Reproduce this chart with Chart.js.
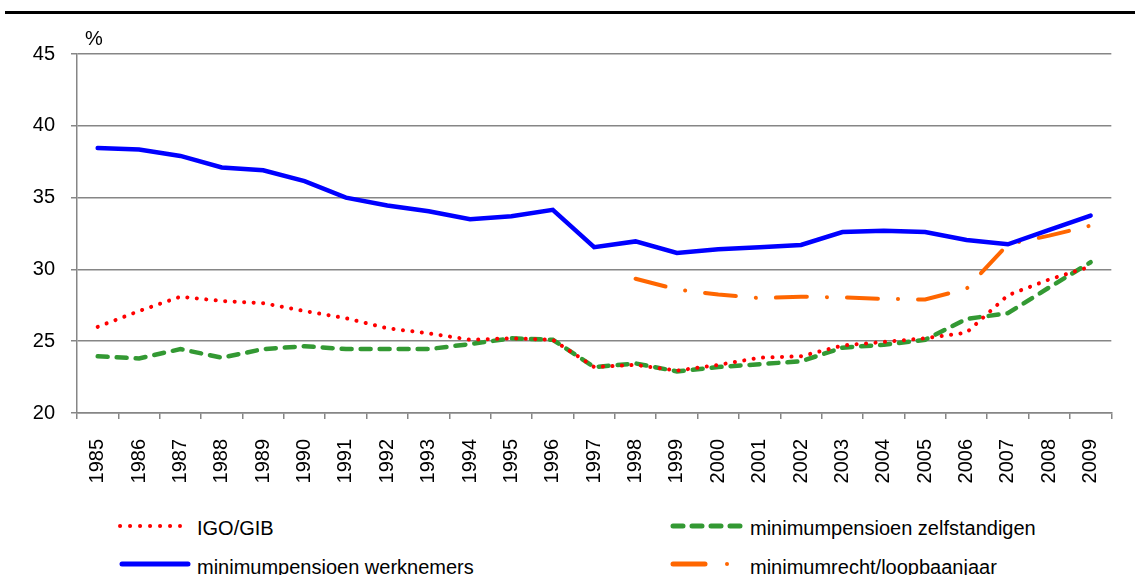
<!DOCTYPE html>
<html>
<head>
<meta charset="utf-8">
<script src="https://cdn.jsdelivr.net/npm/chart.js@4.4.1/dist/chart.umd.min.js"></script>
<style>
    html, body { margin: 0; padding: 0; background: #fff; }
    body { width: 1135px; height: 575px; position: relative; overflow: hidden;
           font-family: "Liberation Sans", Arial, sans-serif; color: #000; }
    #topRule { position: absolute; left: 5px; right: 0; top: 11px; height: 3px; background: #000; }
    #wrap { position: absolute; left: 0; top: 0; width: 1135px; height: 500px; }
    #unit { position: absolute; left: 85px; top: 27px; font-size: 20px; }
    .leg { position: absolute; font-size: 20px; line-height: 24px; white-space: nowrap; }
    .leg svg { position: absolute; top: 0; }
</style>
</head>
<body>
<div id="topRule"></div>
<div id="wrap"><canvas id="chart"></canvas></div>
<div id="unit">%</div>

<div class="leg" style="left:0; top:516px; width:1135px; height:24px;">
    <svg width="1135" height="24" style="left:0">
        <line x1="120" y1="10" x2="180" y2="10" stroke="#ff0000" stroke-width="4" stroke-linecap="round" stroke-dasharray="0.1 9.9"/>
        <line x1="673" y1="10" x2="740" y2="10" stroke="#339933" stroke-width="5" stroke-linecap="round" stroke-dasharray="10 9"/>
    </svg>
    <span style="position:absolute; left:197px; top:0;">IGO/GIB</span>
    <span style="position:absolute; left:750px; top:0;">minimumpensioen zelfstandigen</span>
</div>
<div class="leg" style="left:0; top:555px; width:1135px; height:24px;">
    <svg width="1135" height="24" style="left:0">
        <line x1="122" y1="9" x2="188" y2="9" stroke="#0000ff" stroke-width="5" stroke-linecap="round"/>
        <line x1="673" y1="9" x2="705" y2="9" stroke="#ff6600" stroke-width="5" stroke-linecap="round"/>
        <circle cx="727" cy="9" r="2" fill="#ff6600"/>
    </svg>
    <span style="position:absolute; left:197px; top:0;">minimumpensioen werknemers</span>
    <span style="position:absolute; left:750px; top:0;">minimumrecht/loopbaanjaar</span>
</div>

<script>
// Years on the x axis
const years = ['1985', '1986', '1987', '1988', '1989', '1990', '1991', '1992', '1993',
    '1994', '1995', '1996', '1997', '1998', '1999', '2000', '2001', '2002', '2003',
    '2004', '2005', '2006', '2007', '2008', '2009'];

// Series values (%)
const igoGib = [26.0, 27.1, 28.1, 27.8, 27.65, 27.1, 26.6, 25.9, 25.55, 25.1, 25.2, 25.1,
    23.2, 23.35, 22.95, 23.35, 23.85, 23.95, 24.7, 24.95, 25.2, 25.6, 28.2, 29.3, 30.2];
const werknemers = [38.45, 38.35, 37.9, 37.1, 36.9, 36.15, 35.0, 34.45, 34.05, 33.5, 33.7,
    34.15, 31.55, 31.95, 31.15, 31.4, 31.55, 31.7, 32.6, 32.7, 32.6, 32.05, 31.75, 32.75, 33.75];
const zelfstandigen = [23.95, 23.8, 24.45, 23.85, 24.45, 24.65, 24.45, 24.45, 24.45, 24.8,
    25.2, 25.1, 23.2, 23.45, 22.9, 23.2, 23.4, 23.6, 24.55, 24.75, 25.1, 26.55, 26.95, 28.75, 30.5];
const loopbaanjaar = [null, null, null, null, null, null, null, null, null, null, null, null,
    null, 29.35, 28.6, 28.25, 28.0, 28.1, 28.05, 27.95, 27.9, 28.65, 31.75, 32.35, 33.05];

// Y axis ticks
const yMin = 20;
const yMax = 45;
const yStep = 5;

const COLORS = {
    red: '#ff0000',
    blue: '#0000ff',
    green: '#339933',
    orange: '#ff6600',
    grid: '#868686'
};

const FONT = { family: '"Liberation Sans", Arial, sans-serif', size: 20 };

const ctx = document.getElementById('chart');

new Chart(ctx, {
    type: 'line',
    data: {
        labels: years,
        datasets: [
            {
                label: 'IGO/GIB',
                data: igoGib,
                borderColor: COLORS.red,
                borderWidth: 4,
                borderDash: [0.1, 9.4],
                borderCapStyle: 'round'
            },
            {
                label: 'minimumpensioen werknemers',
                data: werknemers,
                borderColor: COLORS.blue,
                borderWidth: 4.5,
                borderCapStyle: 'round'
            },
            {
                label: 'minimumpensioen zelfstandigen',
                data: zelfstandigen,
                borderColor: COLORS.green,
                borderWidth: 4.5,
                borderDash: [10, 9],
                borderCapStyle: 'round'
            },
            {
                label: 'minimumrecht/loopbaanjaar',
                data: loopbaanjaar,
                borderColor: COLORS.orange,
                borderWidth: 4,
                borderDash: [31, 20, 0.1, 20],
                borderCapStyle: 'round'
            }
        ]
    },
    options: {
        responsive: true,
        maintainAspectRatio: false,
        animation: false,
        layout: {
            padding: { top: 54, right: 18, left: 0, bottom: 0 }
        },
        elements: {
            point: { radius: 0, hoverRadius: 0 },
            line: { tension: 0, fill: false }
        },
        plugins: {
            legend: { display: false },
            tooltip: { enabled: false }
        },
        scales: {
            x: {
                type: 'category',
                offset: true,
                grid: {
                    offset: true,
                    drawOnChartArea: false,
                    drawTicks: true,
                    tickLength: 6,
                    color: COLORS.grid,
                    lineWidth: 1.5
                },
                border: { color: COLORS.grid, width: 1.5 },
                ticks: {
                    color: '#000',
                    font: FONT,
                    minRotation: 90,
                    maxRotation: 90,
                    autoSkip: false,
                    padding: 20
                },
                afterFit: (scale) => { scale.height = 87; }
            },
            y: {
                min: yMin,
                max: yMax,
                grid: {
                    color: COLORS.grid,
                    lineWidth: 1.5,
                    tickLength: 6
                },
                border: { color: COLORS.grid, width: 1.5 },
                ticks: {
                    stepSize: yStep,
                    color: '#000',
                    font: FONT,
                    padding: 16
                },
                afterFit: (scale) => { scale.width = 77; }
            }
        }
    }
});
</script>
</body>
</html>
